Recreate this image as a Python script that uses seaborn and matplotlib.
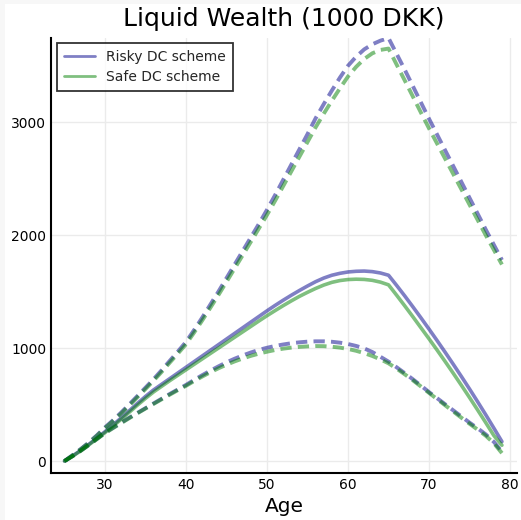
import matplotlib
matplotlib.use("Agg")
import matplotlib.pyplot as plt
from matplotlib.lines import Line2D
from matplotlib.patches import Rectangle
import pandas as pd
import seaborn as sns

# Liquid wealth over the life cycle, 1000 DKK: mean and upper/lower percentile bands
ages = list(range(25, 80))

risky_mean = [0, 45, 95, 148, 203, 260, 320, 382, 446, 510,
              572, 630, 680, 730, 780, 830, 880, 930, 980, 1030,
              1080, 1130, 1180, 1230, 1280, 1330, 1378, 1424, 1468, 1510,
              1550, 1588, 1620, 1645, 1662, 1674, 1680, 1682, 1677, 1665,
              1645, 1555, 1462, 1366, 1268, 1168, 1066, 962, 856, 748,
              638, 525, 410, 292, 172]
risky_high = [0, 52, 106, 164, 228, 298, 362, 430, 502, 576,
              650, 725, 805, 888, 970, 1055, 1160, 1270, 1385, 1500,
              1620, 1740, 1860, 1980, 2100, 2225, 2355, 2490, 2625, 2760,
              2895, 3035, 3160, 3280, 3395, 3500, 3580, 3645, 3690, 3722,
              3745, 3605, 3465, 3320, 3175, 3030, 2890, 2750, 2610, 2470,
              2330, 2190, 2050, 1915, 1780]
risky_low = [0, 44, 92, 143, 196, 250, 295, 340, 384, 426,
             468, 510, 552, 594, 634, 674, 718, 760, 800, 838,
             874, 906, 935, 961, 984, 1003, 1019, 1032, 1043, 1051,
             1057, 1060, 1060, 1056, 1048, 1036, 1019, 997, 965, 923,
             880, 830, 778, 724, 668, 610, 556, 502, 448, 394,
             340, 290, 236, 170, 82]

safe_mean = [0, 43, 91, 143, 197, 252, 310, 370, 432, 495,
             555, 612, 662, 712, 760, 808, 856, 904, 952, 1000,
             1048, 1096, 1144, 1192, 1240, 1287, 1332, 1376, 1418, 1458,
             1494, 1528, 1558, 1582, 1598, 1607, 1610, 1608, 1600, 1584,
             1560, 1468, 1374, 1278, 1180, 1082, 982, 880, 776, 670,
             562, 452, 340, 226, 140]
safe_high = [0, 51, 104, 161, 224, 292, 355, 421, 492, 565,
             638, 712, 790, 872, 952, 1035, 1138, 1245, 1357, 1470,
             1587, 1705, 1823, 1941, 2060, 2180, 2305, 2435, 2565, 2695,
             2825, 2955, 3075, 3190, 3300, 3405, 3490, 3560, 3610, 3640,
             3652, 3510, 3370, 3228, 3085, 2945, 2810, 2675, 2540, 2405,
             2270, 2135, 2000, 1870, 1740]
safe_low = [0, 43, 90, 141, 194, 247, 292, 336, 380, 423,
            465, 506, 547, 588, 628, 666, 708, 748, 786, 821,
            853, 882, 908, 931, 951, 968, 983, 995, 1004, 1011,
            1015, 1018, 1017, 1012, 1004, 992, 976, 955, 930, 900,
            865, 818, 768, 715, 660, 603, 548, 493, 438, 383,
            330, 278, 224, 158, 70]

schemes = ["Risky DC scheme", "Safe DC scheme"]
scheme_colors = {"Risky DC scheme": "#00008b", "Safe DC scheme": "#008000"}
x_ticks = [30, 40, 50, 60, 70, 80]
y_ticks = [0, 1000, 2000, 3000]

series = {
    "Risky DC scheme": {"mean": risky_mean, "high": risky_high, "low": risky_low},
    "Safe DC scheme": {"mean": safe_mean, "high": safe_high, "low": safe_low},
}
rows = []
for scheme, stats in series.items():
    for stat, values in stats.items():
        for a, v in zip(ages, values):
            rows.append({"age": a, "wealth": v, "scheme": scheme, "stat": stat})
df = pd.DataFrame(rows)

sns.set_style("white")
plt.rcParams["font.family"] = ["DejaVu Sans"]

fig = plt.figure(figsize=(5.21, 5.20), dpi=100)
fig.patch.set_facecolor("#f7f7f7")
fig.patches.append(Rectangle((5 / 521, 0), 1, 1 - 4 / 520, transform=fig.transFigure,
                             facecolor="white", edgecolor="none", zorder=-10))
ax = fig.add_axes([51 / 521, 47 / 520, 466 / 521, 435.5 / 520])
ax.set_facecolor("white")

lw = 2.6
dash = (0, (2.9, 1.6))
for scheme in schemes:
    color = scheme_colors[scheme]
    for stat in ["mean", "high", "low"]:
        sub = df[(df["scheme"] == scheme) & (df["stat"] == stat)]
        sns.lineplot(data=sub, x="age", y="wealth", ax=ax, color=color, alpha=0.5,
                     linewidth=lw if stat == "mean" else 2.8,
                     linestyle="-" if stat == "mean" else dash,
                     errorbar=None, legend=False)

ax.set_xlim(23.33, 80.86)
ax.set_ylim(-106, 3750)
ax.set_xticks(x_ticks)
ax.set_yticks(y_ticks)
ax.grid(True, color="#ebebeb", linewidth=1.0)
ax.set_axisbelow(True)
ax.tick_params(direction="in", length=4, width=1, colors="black", labelsize=10,
               labelcolor="black")
for side in ["top", "right"]:
    ax.spines[side].set_visible(False)
for side in ["left", "bottom"]:
    ax.spines[side].set_visible(True)
    ax.spines[side].set_color("black")
    ax.spines[side].set_linewidth(1.5)

ax.set_xlabel("Age", fontsize=14.5, color="black", labelpad=4)
ax.set_ylabel("")
ax.set_title("Liquid Wealth (1000 DKK)", fontsize=18, color="black", pad=8.5)

handles = [Line2D([0], [0], color=scheme_colors[s], alpha=0.5, linewidth=2) for s in schemes]
leg = ax.legend(handles, schemes, loc="upper left", bbox_to_anchor=(0.013, 0.987),
                fontsize=10, frameon=True, fancybox=False, handlelength=2.2,
                handletextpad=0.85, borderpad=0.5, labelspacing=0.45, borderaxespad=0)
leg.get_frame().set_edgecolor("black")
leg.get_frame().set_linewidth(1.3)

fig.savefig("out.png", dpi=100, facecolor=fig.get_facecolor())
